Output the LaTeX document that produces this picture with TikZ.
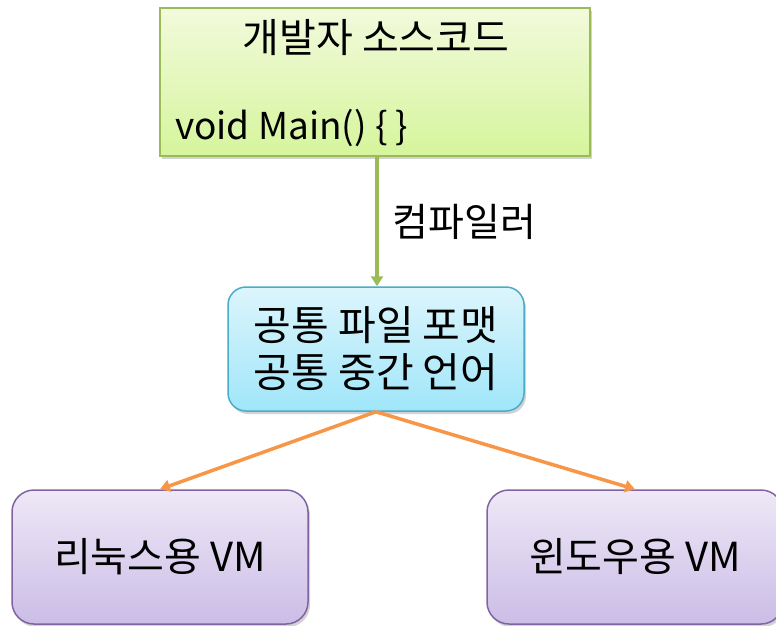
\documentclass[tikz,border=0pt]{standalone}
\usepackage{fontspec}
\setmainfont{Noto Sans CJK KR}
\usetikzlibrary{shadows,arrows.meta}
\definecolor{gborder}{HTML}{9BBB59}
\definecolor{gtop}{HTML}{F2FADC}
\definecolor{gbot}{HTML}{D5F59C}
\definecolor{cborder}{HTML}{4BACC6}
\definecolor{ctop}{HTML}{DDF5FC}
\definecolor{cbot}{HTML}{9FE6FA}
\definecolor{pborder}{HTML}{8064A2}
\definecolor{ptop}{HTML}{EEE8F7}
\definecolor{pbot}{HTML}{CBBDE6}
\definecolor{oline}{HTML}{F79646}
\tikzset{
  srcbox/.style={draw=gborder, line width=2pt, top color=gtop, bottom color=gbot, minimum width=430pt, minimum height=148pt, inner sep=0pt, drop shadow={shadow xshift=2pt, shadow yshift=-3pt, opacity=0.35}},
  midbox/.style={draw=cborder, line width=1.5pt, rounded corners=18pt, top color=ctop, bottom color=cbot, minimum width=296pt, minimum height=124pt, inner sep=0pt, align=center, font=\fontsize{41}{47}\selectfont, drop shadow={shadow xshift=2pt, shadow yshift=-3pt, opacity=0.35}},
  vmbox/.style={draw=pborder, line width=1.5pt, rounded corners=22pt, top color=ptop, bottom color=pbot, minimum width=296pt, minimum height=134pt, inner sep=0pt, font=\fontsize{40}{46}\selectfont, drop shadow={shadow xshift=2pt, shadow yshift=-3pt, opacity=0.35}},
  ttl/.style={inner sep=0pt, font=\fontsize{40}{46}\selectfont},
  codetxt/.style={inner sep=0pt, font=\fontsize{37}{44}\selectfont},
  lbl/.style={inner sep=0pt, font=\fontsize{39}{44}\selectfont},
  garrow/.style={draw=gborder, line width=3.5pt, -{Triangle[length=10pt,width=12pt]}},
  oarrow/.style={draw=oline, line width=3.5pt, -{Triangle[length=10pt,width=12pt]}, line cap=round, line join=round},
}
\begin{document}
\begin{tikzpicture}[x=1pt,y=-1pt]
\useasboundingbox (0,0) rectangle (776,625);
\clip (0,0) rectangle (776,625);
\node[srcbox] (src) at (375,82) {};
\node[ttl, anchor=center] (title) at (376,38) {개발자 소스코드};
\node[codetxt, anchor=west] (code) at (175,128) {void Main() \{ \}};
\node[midbox] (mid) at (376,349) {공통 파일 포맷\\공통 중간 언어};
\node[vmbox] (lin) at (160,557) {리눅스용 VM};
\node[vmbox] (win) at (635,557) {윈도우용 VM};
\draw[garrow] (src.south -| 377,0) -- (mid.north -| 377,0) node[midway, right=14pt, lbl] (comp) {컴파일러};
\draw[oarrow] (mid.south) -- (lin.north);
\draw[oarrow] (mid.south) -- (win.north);
\end{tikzpicture}
\end{document}
